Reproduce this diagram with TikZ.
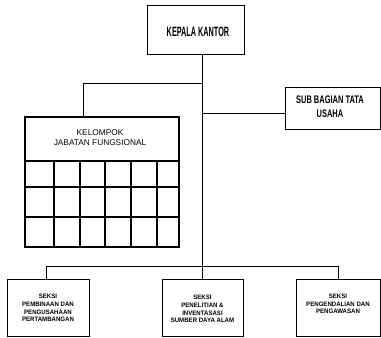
\documentclass[tikz,border=0pt]{standalone}
\usepackage{fontspec}
\setmainfont{Liberation Sans}
\newfontfamily\kfont[FakeStretch=0.54]{Liberation Sans}
\newfontfamily\sfontb[FakeStretch=0.68]{Liberation Sans}
\newfontfamily\bfontb[FakeStretch=0.95]{Liberation Sans}
\begin{document}
\begin{tikzpicture}[x=1pt,y=-1pt,
  box/.style={draw, line width=1pt, inner sep=0pt, outer sep=0pt, rectangle},
  conn/.style={draw, line width=0.9pt},
  txt/.style={inner sep=0pt, align=center},
  smalltxt/.style={txt, font=\bfontb\bfseries\fontsize{6.4}{7.6}\selectfont}
]
\useasboundingbox (0,0) rectangle (381,338);
% boxes
\node[box, minimum width=97pt, minimum height=49pt] (kepala) at (195.5,29.5) {};
\node[txt, font=\kfont\bfseries\fontsize{13.5}{16}\selectfont] (kepalaT) at (198,32) {KEPALA KANTOR};
\node[box, minimum width=95pt, minimum height=42pt] (sub) at (332.5,108) {};
\node[txt, font=\sfontb\bfseries\fontsize{11}{14}\selectfont] (subT) at (330,107) {SUB BAGIAN TATA\\USAHA};
\node[box, line width=1.8pt, minimum width=154pt, minimum height=130pt] (kel) at (102,182) {};
\node[txt, font=\fontsize{8.3}{10}\selectfont] (kelT) at (100,138) {KELOMPOK\\JABATAN FUNGSIONAL};
% grid
\foreach \yy in {161,187,217} \draw[line width=1.3pt] (kel.west |- 0,\yy) -- (kel.east |- 0,\yy);
\foreach \xx in {54,80,105,131,157} \draw[line width=1.3pt] (\xx,161) -- (\xx,247);
\node[box, minimum width=82pt, minimum height=57pt] (left) at (48,307.5) {};
\node[smalltxt] (leftT) at (48,308) {SEKSI\\PEMBINAAN DAN\\PENGUSAHAAN\\PERTAMBANGAN};
\node[box, minimum width=81pt, minimum height=57pt] (mid) at (202.5,307.5) {};
\node[smalltxt] (midT) at (202.5,309) {SEKSI\\PENELITIAN \&\\INVENTASASI\\SUMBER DAYA ALAM};
\node[box, minimum width=84pt, minimum height=57pt] (right) at (338,307.5) {};
\node[smalltxt] (rightT) at (338,304) {SEKSI\\PENGENDALIAN DAN\\PENGAWASAN};
% connectors
\coordinate (top) at (202,54);
\coordinate (j1) at (202,83);
\coordinate (j1l) at (83,83);
\coordinate (j2) at (202,113);
\coordinate (j3) at (202,266);
\coordinate (j3l) at (46,266);
\coordinate (j3r) at (338,266);
\draw[conn] (top) -- (mid.north -| top);
\draw[conn] (j1) -- (j1l) -- (kel.north -| j1l);
\draw[conn] (j2) -- (sub.west |- j2);
\draw[conn] (j3l) -- (j3r);
\draw[conn] (j3l) -- (left.north -| j3l);
\draw[conn] (j3r) -- (right.north -| j3r);
\end{tikzpicture}
\end{document}
